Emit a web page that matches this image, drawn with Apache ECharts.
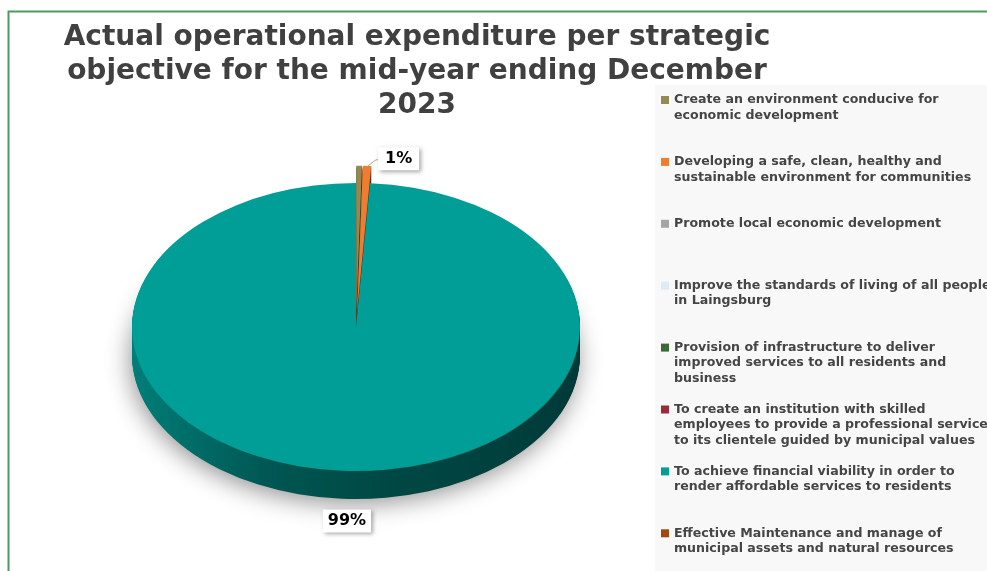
<!DOCTYPE html>
<html>
<head>
<meta charset="utf-8">
<script src="https://cdn.jsdelivr.net/npm/echarts@6/dist/echarts.min.js"></script>
<style>
  html, body { margin: 0; padding: 0; background: #ffffff; }
  #chart { width: 987px; height: 571px; }
</style>
</head>
<body>
<div id="chart"></div>
<script>
// Strategic objectives (legend wording, wrapped as printed)
const objectives = [
  'Create an environment conducive for\neconomic development',
  'Developing a safe, clean, healthy and\nsustainable environment for communities',
  'Promote local economic development',
  'Improve the standards of living of all people\nin Laingsburg',
  'Provision of infrastructure to deliver\nimproved services to all residents and\nbusiness',
  'To create an institution with skilled\nemployees to provide a professional service\nto its clientele guided by municipal values',
  'To achieve financial viability in order to\nrender affordable services to residents',
  'Effective Maintenance and manage of\nmunicipal assets and natural resources'
];

// Share of actual operational expenditure (%)
const expenditureShare = [0.4, 0.6, 0, 0, 0, 0, 99.0, 0];

// Slice colours
const sliceColors = ['#938953', '#ED7D31', '#A5A5A5', '#DDEBF7', '#3A6B35', '#9C2A3C', '#009E96', '#A5450F'];

const chartTitle = 'Actual operational expenditure per strategic\nobjective for the mid-year ending December\n2023';

// ---- derived values ----
const total = expenditureShare.reduce((a, b) => a + b, 0);
const startFrac = [];
(function () {
  let acc = 0;
  expenditureShare.forEach(v => { startFrac.push(acc / total); acc += v; });
})();

// ---- tilted pie geometry ----
const PIE = { cx: 356, cy: 327, rx: 224, ry: 144, depth: 28, explode: 27 };
const K = PIE.ry / PIE.rx;

function shade(hex, f) {
  const n = parseInt(hex.slice(1), 16);
  const r = Math.round(((n >> 16) & 255) * f);
  const g = Math.round(((n >> 8) & 255) * f);
  const b = Math.round((n & 255) * f);
  return 'rgb(' + r + ',' + g + ',' + b + ')';
}

function sideFill(base) {
  return {
    type: 'linear', x: 0, y: 0, x2: 1, y2: 0,
    colorStops: [
      { offset: 0, color: shade(base, 0.80) },
      { offset: 0.3, color: shade(base, 0.55) },
      { offset: 0.55, color: shade(base, 0.46) },
      { offset: 1, color: shade(base, 0.37) }
    ]
  };
}

function renderSlice(params, api) {
  const i = params.seriesIndex;
  const v = api.value(0);
  if (!v) return { type: 'group', children: [] };
  const frac = v / total;
  const a0 = -Math.PI / 2 + 2 * Math.PI * startFrac[i];
  const a1 = a0 + 2 * Math.PI * frac;
  const mid = (a0 + a1) / 2;
  const off = frac < 0.05 ? PIE.explode : 0;
  const ox = PIE.cx + off * Math.cos(mid);
  const oy = PIE.cy + off * Math.sin(mid) * K;
  const base = sliceColors[i];
  const shape = { cx: 0, cy: 0, r0: 0, r: PIE.rx, startAngle: a0, endAngle: a1, clockwise: true };
  const children = [];

  // extruded side wall, built from stacked layers
  for (let d = PIE.depth; d >= 1; d--) {
    const bottom = d === PIE.depth && off === 0;
    children.push({
      type: 'sector', x: ox, y: oy + d, scaleY: K, silent: true,
      shape: shape,
      style: {
        fill: sideFill(base),
        shadowBlur: bottom ? 24 : 0,
        shadowColor: 'rgba(0,0,0,0.42)',
        shadowOffsetX: bottom ? -2 : 0,
        shadowOffsetY: bottom ? 5 : 0
      },
      z2: 1
    });
  }
  // top face
  children.push({
    type: 'sector', x: ox, y: oy, scaleY: K,
    shape: shape,
    style: { fill: base },
    z2: 10
  });

  // percentage label
  const pct = Math.round(frac * 100);
  if (pct > 0) {
    const px = ox + PIE.rx * Math.cos(mid);
    const py = oy + PIE.ry * Math.sin(mid);
    const labelStyle = {
      text: pct + '%',
      fill: '#000000',
      fontFamily: 'DejaVu Sans',
      fontWeight: 'bold',
      fontSize: 16,
      backgroundColor: '#ffffff',
      padding: [4, 7, 3, 7],
      shadowBlur: 4,
      shadowColor: 'rgba(0,0,0,0.35)',
      shadowOffsetX: 2,
      shadowOffsetY: 2
    };
    if (Math.sin(mid) < 0) {
      children.push({
        type: 'polyline', silent: true, z2: 20,
        shape: { points: [[px + 1, py], [px + 9, py - 6], [px + 12, py - 6]] },
        style: { stroke: '#a6a6a6', lineWidth: 1, fill: null }
      });
      children.push({
        type: 'text', x: px + 11, y: py - 7, z2: 21,
        style: Object.assign({ align: 'left', verticalAlign: 'middle' }, labelStyle)
      });
    } else {
      children.push({
        type: 'text', x: px - 2, y: py + PIE.depth + 22, z2: 21,
        style: Object.assign({ align: 'center', verticalAlign: 'middle' }, labelStyle, { padding: [4, 5, 3, 5] })
      });
    }
  }
  return { type: 'group', children: children };
}

// ---- legend: one block per objective, marker on the first text line ----
const LEGEND_LINE = 15.5;
const legends = objectives.map((name, i) => {
  const n = name.split('\n').length;
  return {
    data: [name],
    orient: 'vertical',
    left: 661,
    top: 100 + i * 61.9 - (n - 0.5) * LEGEND_LINE,
    padding: 0,
    itemWidth: 8,
    itemHeight: 8,
    icon: 'rect',
    formatter: s => '\n'.repeat(n - 1) + s,
    textStyle: { fontFamily: 'DejaVu Sans', fontWeight: 'bold', fontSize: 12.6, color: '#454545', lineHeight: LEGEND_LINE }
  };
});

const series = objectives.map((name, i) => ({
  type: 'custom',
  name: name,
  coordinateSystem: 'none',
  itemStyle: { color: sliceColors[i] },
  data: [expenditureShare[i]],
  renderItem: renderSlice
}));

const chart = echarts.init(document.getElementById('chart'), null, { renderer: 'canvas' });
chart.setOption({
  backgroundColor: '#ffffff',
  animation: false,
  color: sliceColors,
  title: {
    text: chartTitle,
    left: 417,
    top: 21,
    padding: 0,
    textAlign: 'center',
    textStyle: { fontFamily: 'DejaVu Sans', fontWeight: 'bold', fontSize: 28, color: '#404040', lineHeight: 34 }
  },
  graphic: [
    { type: 'rect', left: 655, top: 85, shape: { width: 340, height: 500 }, style: { fill: '#f8f8f8' }, z: -10, silent: true },
    { type: 'rect', left: 6, top: 9, shape: { width: 1000, height: 600 }, style: { fill: null, stroke: '#4e9a5f', lineWidth: 2 }, z: -5, silent: true }
  ],
  legend: legends,
  series: series
});
</script>
</body>
</html>
